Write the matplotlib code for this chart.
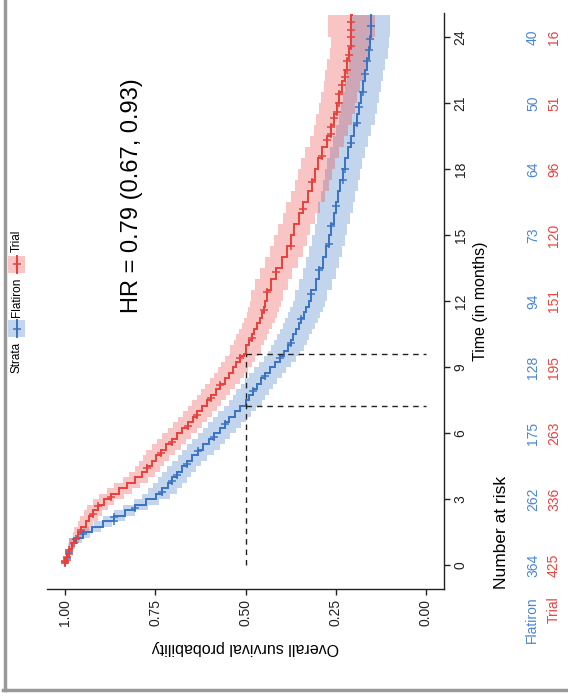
import numpy as np
import matplotlib
matplotlib.use("Agg")
import matplotlib.pyplot as plt
import matplotlib.transforms as mtransforms
from matplotlib.lines import Line2D
from matplotlib.patches import Rectangle

plt.rcParams['font.family'] = ['Liberation Sans', 'DejaVu Sans']

# ---- Kaplan-Meier estimates (time in months, survival probability) ----
flatiron_time = [0, 0.25, 0.5, 0.75, 1.0, 1.25, 1.5, 1.75, 2.0, 2.25, 2.5, 2.75, 3.0,
                 3.25, 3.5, 3.75, 4.0, 4.25, 4.5, 4.75, 5.0, 5.25, 5.5, 5.75, 6.0,
                 6.25, 6.5, 6.75, 7.0, 7.25, 7.5, 7.75, 8.0, 8.25, 8.5, 8.75, 9.0,
                 9.25, 9.5, 9.75, 10.0, 10.25, 10.5, 10.75, 11.0, 11.25, 11.5, 11.75,
                 12.0, 12.5, 13.0, 13.5, 14.0, 14.5, 15.0, 15.5, 16.0, 16.5, 17.0,
                 17.5, 18.0, 18.5, 19.0, 19.5, 20.0, 20.5, 21.0, 21.5, 22.0, 22.5,
                 23.0, 23.5, 24.0, 25.0]
flatiron_surv = [1.0, 0.995, 0.99, 0.982, 0.97, 0.95, 0.925, 0.895, 0.865, 0.835,
                 0.805, 0.775, 0.748, 0.73, 0.715, 0.703, 0.69, 0.677, 0.663, 0.648,
                 0.632, 0.617, 0.602, 0.587, 0.572, 0.558, 0.545, 0.53, 0.515, 0.50,
                 0.49, 0.48, 0.468, 0.457, 0.445, 0.432, 0.418, 0.405, 0.393, 0.383,
                 0.375, 0.368, 0.36, 0.352, 0.345, 0.338, 0.331, 0.324, 0.318, 0.306,
                 0.295, 0.286, 0.278, 0.27, 0.263, 0.256, 0.25, 0.244, 0.237, 0.231,
                 0.225, 0.217, 0.209, 0.20, 0.192, 0.186, 0.18, 0.175, 0.17, 0.164,
                 0.158, 0.155, 0.152, 0.152]
flatiron_ci_time = [0, 0.5, 1.0, 1.5, 2.0, 2.5, 3.0, 5.0, 8.0, 12.0, 16.0, 20.0, 23.0]
flatiron_ci_half = [0.003, 0.01, 0.018, 0.025, 0.03, 0.035, 0.04, 0.045, 0.045,
                    0.045, 0.048, 0.05, 0.052]
flatiron_censor = [0.3, 0.6, 1.2, 1.4, 2.0, 2.2, 2.6, 3.3, 3.8, 4.1, 4.6, 5.2, 5.8, 6.4,
                   7.9, 8.6, 9.4, 10.1, 11.2, 12.3, 13.4, 14.6, 15.4, 16.3, 17.5,
                   18.0, 19.2, 20.1, 20.8, 21.5, 22.3, 22.9, 23.4, 23.9, 24.5]

trial_time = [0, 0.25, 0.5, 0.75, 1.0, 1.25, 1.5, 1.75, 2.0, 2.25, 2.5, 2.75, 3.0,
              3.25, 3.5, 3.75, 4.0, 4.25, 4.5, 4.75, 5.0, 5.25, 5.5, 5.75, 6.0, 6.25,
              6.5, 6.75, 7.0, 7.25, 7.5, 7.75, 8.0, 8.25, 8.5, 8.75, 9.0, 9.25, 9.5,
              9.6, 10.0, 10.25, 10.5, 10.75, 11.0, 11.25, 11.5, 11.75, 12.0, 12.5,
              13.0, 13.5, 14.0, 14.5, 15.0, 15.5, 16.0, 16.5, 17.0, 17.5, 18.0, 18.5,
              19.0, 19.5, 20.0, 20.5, 21.0, 21.5, 22.0, 22.5, 23.0, 23.5, 24.0, 25.0]
trial_surv = [1.0, 0.995, 0.99, 0.982, 0.975, 0.965, 0.955, 0.943, 0.933, 0.923, 0.91,
              0.893, 0.872, 0.85, 0.828, 0.805, 0.787, 0.772, 0.76, 0.748, 0.735, 0.72,
              0.705, 0.69, 0.675, 0.66, 0.646, 0.633, 0.62, 0.607, 0.595, 0.582, 0.57,
              0.557, 0.545, 0.535, 0.525, 0.515, 0.505, 0.50, 0.49, 0.483, 0.476,
              0.468, 0.461, 0.455, 0.45, 0.445, 0.44, 0.428, 0.415, 0.40, 0.386,
              0.375, 0.365, 0.352, 0.34, 0.327, 0.315, 0.307, 0.30, 0.287, 0.275,
              0.264, 0.255, 0.247, 0.24, 0.232, 0.225, 0.218, 0.212, 0.209, 0.207,
              0.205]
trial_ci_time = [0, 0.5, 1.0, 1.5, 2.0, 2.5, 3.0, 5.0, 8.0, 12.0, 16.0, 20.0, 22.0,
                 24.0]
trial_ci_half = [0.003, 0.008, 0.014, 0.02, 0.025, 0.03, 0.035, 0.04, 0.042, 0.045,
                 0.047, 0.05, 0.055, 0.065]
trial_censor = [0.1, 0.15, 0.2, 0.25, 0.35, 0.5, 0.7, 1.0, 1.6, 2.3, 2.7, 3.1, 4.4,
                5.1, 5.6, 6.3, 6.8, 7.6, 8.2, 9.4, 10.3, 11.6, 12.4, 13.3, 14.5, 16.2,
                17.4, 18.6, 19.3, 19.6, 19.9, 20.3, 20.6, 21.0, 21.4, 21.8, 22.2, 22.5,
                22.9, 23.2, 23.6, 24.0, 24.3, 24.7]

# ---- number at risk table ----
risk_times = [0, 3, 6, 9, 12, 15, 18, 21, 24]
risk_flatiron = [364, 262, 175, 128, 94, 73, 64, 50, 40]
risk_trial = [425, 336, 263, 195, 151, 120, 96, 51, 16]

strata_names = ["Flatiron", "Trial"]
hr_label = "HR = 0.79 (0.67, 0.93)"

BLUE = "#3a73c4"
RED = "#e8403c"
BLUE_TXT = "#4a86d6"
RED_TXT = "#e8443f"

W, H = 568, 697
fig = plt.figure(figsize=(W / 100, H / 100), dpi=100)


def fx(px):
    return px / W


def fy(py):
    return 1 - py / H


# rotated layout: survival runs left->right (1 to 0), time runs bottom->top
ax = fig.add_axes([fx(47), fy(589), fx(444) - fx(47), fy(13) - fy(589)])
ax.set_xlim(1.05, -0.05)
ax.set_ylim(-1.09, 25.09)

for sp in ("top", "left"):
    ax.spines[sp].set_visible(False)
for sp in ("bottom", "right"):
    ax.spines[sp].set_linewidth(1.0)
    ax.spines[sp].set_color("#222222")

ax.yaxis.tick_right()
ax.yaxis.set_label_position("right")
ax.set_xticks([0, 0.25, 0.5, 0.75, 1.0])
ax.set_xticklabels(["0.00", "0.25", "0.50", "0.75", "1.00"], rotation=90)
ax.set_yticks(risk_times)
ax.set_yticklabels([str(t) for t in risk_times], rotation=90, va="center")
ax.tick_params(axis="both", direction="out", length=4, width=1, color="#222222",
               labelsize=10, labelcolor="#222222", pad=3)

ax.set_xlabel("Overall survival probability", fontsize=11.5, rotation=180, labelpad=10)
ax.set_ylabel("Time (in months)", fontsize=11.5, rotation=90, labelpad=4)


def step_lookup(times, values, tq):
    idx = np.searchsorted(np.asarray(times), np.asarray(tq), side="right") - 1
    return np.asarray(values)[idx]


def draw_km(times, surv, ci_t, ci_h, censor, color):
    t = np.asarray(times, dtype=float)
    s = np.asarray(surv, dtype=float)
    h = step_lookup(ci_t, ci_h, t)
    ax.fill_betweenx(t, s - h, s + h, step="post", color=color, alpha=0.3, lw=0)
    ys = np.repeat(t, 2)[1:]
    xs = np.repeat(s, 2)[:-1]
    ax.plot(xs, ys, color=color, lw=1.4, solid_joinstyle="miter")
    c = np.asarray(censor, dtype=float)
    ax.plot(step_lookup(t, s, c), c, ls="none", marker="+", ms=6, mew=1.1, color=color)
    # median survival
    below = np.where(s <= 0.5)[0]
    return t[below[0]]


med_f = draw_km(flatiron_time, flatiron_surv, flatiron_ci_time, flatiron_ci_half,
                flatiron_censor, BLUE)
med_t = draw_km(trial_time, trial_surv, trial_ci_time, trial_ci_half, trial_censor, RED)

dash = dict(color="#222222", lw=1.0, ls=(0, (4, 3.5)))
ax.plot([0.5, 0.5], [0, max(med_f, med_t)], **dash)
for m in (med_f, med_t):
    ax.plot([0.5, 0.0], [m, m], **dash)

ax.text(0.815, 16.8, hr_label, rotation=90, fontsize=17, ha="center", va="center")

# number at risk
tr = mtransforms.blended_transform_factory(fig.transFigure, ax.transData)
for t, nf, nt in zip(risk_times, risk_flatiron, risk_trial):
    ax.text(fx(533), t, str(nf), transform=tr, rotation=90, ha="center", va="center",
            fontsize=10, color=BLUE_TXT, clip_on=False)
    ax.text(fx(554), t, str(nt), transform=tr, rotation=90, ha="center", va="center",
            fontsize=10, color=RED_TXT, clip_on=False)
fig.text(fx(502), fy(589), "Number at risk", rotation=90, ha="center", va="bottom",
         fontsize=12.5)
fig.text(fx(532), fy(596), strata_names[0], rotation=90, ha="center", va="top",
         fontsize=10, color=BLUE_TXT)
fig.text(fx(554), fy(596), strata_names[1], rotation=90, ha="center", va="top",
         fontsize=10, color=RED_TXT)

# legend
fig.text(fx(17), fy(342), "Strata", rotation=90, ha="center", va="top", fontsize=8.5)
for (y0, y1, col, name, ty) in [(337, 320, BLUE, strata_names[0], 297),
                                (273, 256, RED, strata_names[1], 241)]:
    fig.add_artist(Rectangle((fx(8), fy(y0)), fx(17), fy(y1) - fy(y0),
                             transform=fig.transFigure, color=col, alpha=0.3, lw=0))
    fig.add_artist(Line2D([fx(16.5), fx(16.5)], [fy(y0), fy(y1)], color=col, lw=1.4,
                          transform=fig.transFigure))
    fig.add_artist(Line2D([fx(16.5)], [fy((y0 + y1) / 2)], color=col, marker="+",
                          ms=6, mew=1.1, transform=fig.transFigure))
    fig.text(fx(17), fy(ty), name, rotation=90, ha="center", va="center", fontsize=8.5)

# outer frame
fig.add_artist(Line2D([fx(4.5), fx(4.5)], [fy(0), fy(690)], color="#999999", lw=2.5,
                      transform=fig.transFigure))
fig.add_artist(Line2D([fx(3), fx(568)], [fy(690), fy(690)], color="#999999", lw=2.5,
                      transform=fig.transFigure))

fig.savefig("out.png", dpi=100)
